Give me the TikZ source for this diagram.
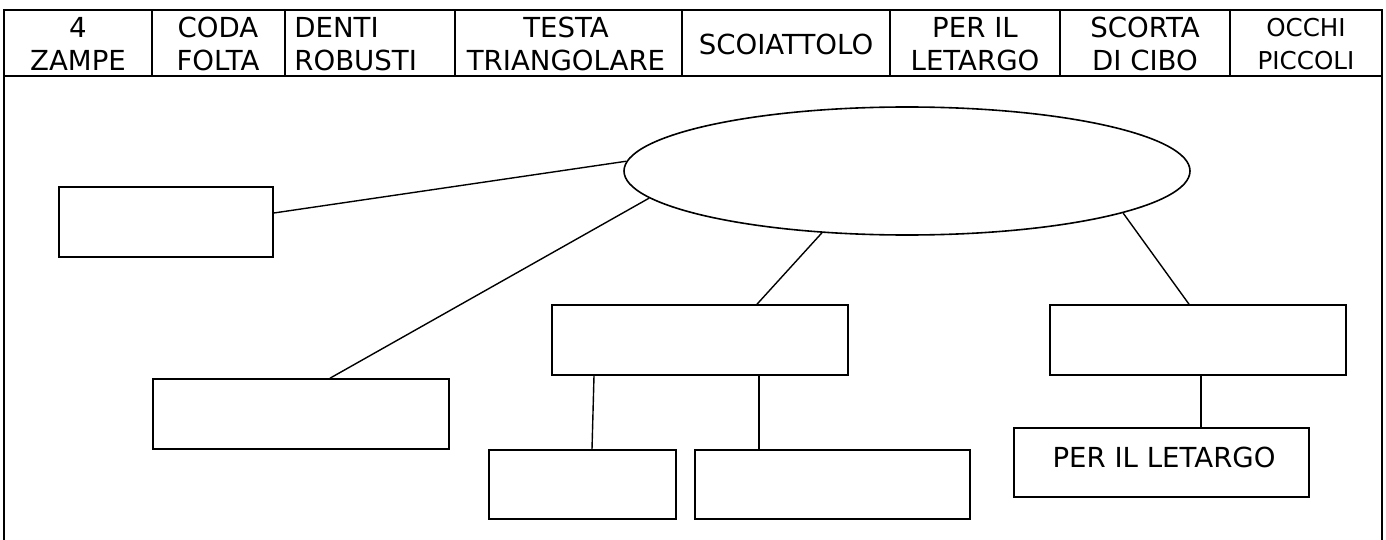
\documentclass[tikz,border=0pt]{standalone}
\usepackage{fontspec}
\setmainfont{DejaVu Sans}
\usetikzlibrary{shapes.geometric,calc}
\begin{document}
\begin{tikzpicture}[x=0.5pt,y=-0.5pt,
 frame/.style={line width=1.1pt},
 box/.style={draw,line width=0.8pt,rectangle,inner sep=0pt,font=\fontsize{13.8}{16}\selectfont},
 conn/.style={line width=0.7pt},
 hdr/.style={align=center,inner sep=0pt,font=\fontsize{13.8}{16.5}\selectfont},
 hdrs/.style={align=center,inner sep=0pt,font=\fontsize{12.3}{16.5}\selectfont},
]
\useasboundingbox (0,0) rectangle (1386,540);
% frame and header
\draw[frame] (4,560) -- (4,10) -- (1382,10) -- (1382,560);
\draw[frame] (4,76) -- (1382,76);
\foreach \x in {152,285,455,682,890,1060,1230} \draw[frame] (\x,10) -- (\x,76);
\node[hdr] (h1) at (78,44) {4\\ZAMPE};
\node[hdr] (h2) at (218,44) {CODA\\FOLTA};
\node[hdr,align=left,anchor=west] (h3) at (294,44) {DENTI\\ROBUSTI};
\node[hdr] (h4) at (566,44) {TESTA\\TRIANGOLARE};
\node[hdr] (h5) at (786,44) {SCOIATTOLO};
\node[hdr] (h6) at (975,44) {PER IL\\LETARGO};
\node[hdr] (h7) at (1145,44) {SCORTA\\DI CIBO};
\node[hdrs] (h8) at (1306,44) {OCCHI\\PICCOLI};
% ellipse
\node[draw,ellipse,minimum width=283pt,minimum height=64pt,inner sep=0pt,line width=0.8pt] (ell) at (907,171) {};
% boxes
\node[box,minimum width=107pt,minimum height=35pt] (b1) at (166,222) {};
\node[box,minimum width=148pt,minimum height=35pt] (b2) at (301,414) {};
\node[box,minimum width=148pt,minimum height=35pt] (b3) at (700,340) {};
\node[box,minimum width=93.5pt,minimum height=34.5pt] (b4) at (582.5,484.5) {};
\node[box,minimum width=137.5pt,minimum height=34.5pt] (b5) at (832.5,484.5) {};
\node[box,minimum width=148pt,minimum height=35pt] (b6) at (1198,340) {};
\node[box,minimum width=147.5pt,minimum height=34.5pt] (b7) at (1161.5,462.5) {};
\node[font=\fontsize{13.8}{16}\selectfont,inner sep=0pt] (t7) at (1164,457) {PER IL LETARGO};
% connectors
\draw[conn] (ell.178.4) -- ($(b1.east)+(0,-9)$);
\draw[conn] (ell.186.4) -- ($(b2.north)+(29,0)$);
\draw[conn] (ell.216.3) -- ($(b3.north)+(57,0)$);
\draw[conn] (ell.349.2) -- ($(b6.north)+(-9,0)$);
\draw[conn] ($(b3.south)+(-106,0)$) -- ($(b4.north)+(9.5,0)$);
\draw[conn] ($(b3.south)+(59,0)$) -- ($(b5.north)+(-73.5,0)$);
\draw[conn] ($(b6.south)+(3,0)$) -- ($(b7.north)+(39.5,0)$);
\end{tikzpicture}
\end{document}
